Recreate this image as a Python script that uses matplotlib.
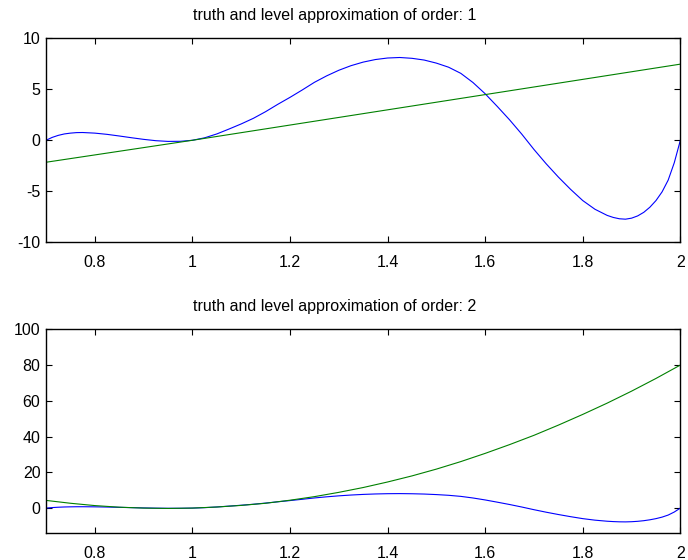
import matplotlib

matplotlib.use("Agg")
import matplotlib.pyplot as plt

plt.rcParams["font.family"] = ["Liberation Sans", "DejaVu Sans"]
plt.rcParams["axes.unicode_minus"] = False

# truth curve, sampled along x
x_truth = [0.700, 0.7125, 0.725, 0.7375, 0.750, 0.7625, 0.775, 0.800, 0.825,
           0.850, 0.875, 0.900, 0.925, 0.950, 0.975, 1.000, 1.025, 1.050,
           1.075, 1.100, 1.125, 1.150, 1.175, 1.200, 1.225, 1.250, 1.275,
           1.300, 1.325, 1.350, 1.375, 1.400, 1.425, 1.450, 1.475, 1.500,
           1.525, 1.550, 1.575, 1.600, 1.625, 1.650, 1.675, 1.700, 1.725,
           1.750, 1.775, 1.800, 1.825, 1.850, 1.8625, 1.875, 1.8875, 1.900,
           1.9125, 1.925, 1.9375, 1.950, 1.9625, 1.975, 1.9875, 2.000]
y_truth = [0.00, 0.28, 0.48, 0.62, 0.70, 0.75, 0.76, 0.70, 0.58,
           0.42, 0.25, 0.09, -0.04, -0.11, -0.10, 0.00, 0.24, 0.62,
           1.10, 1.60, 2.15, 2.80, 3.52, 4.20, 4.92, 5.67, 6.30,
           6.85, 7.30, 7.65, 7.90, 8.05, 8.10, 8.02, 7.85, 7.55,
           7.15, 6.55, 5.65, 4.55, 3.30, 2.00, 0.60, -0.90, -2.30,
           -3.60, -4.80, -5.90, -6.75, -7.35, -7.55, -7.68, -7.72, -7.62,
           -7.40, -7.05, -6.55, -5.90, -5.05, -3.90, -2.20, 0.00]

# order 1 approximation (straight line)
x_order1 = [0.7, 1.0, 2.0]
y_order1 = [-2.15, 0.0, 7.45]

# order 2 approximation
x_order2 = [0.70, 0.75, 0.80, 0.85, 0.90, 0.95, 1.00, 1.05, 1.10, 1.15,
            1.20, 1.25, 1.30, 1.35, 1.40, 1.45, 1.50, 1.55, 1.60, 1.65,
            1.70, 1.75, 1.80, 1.85, 1.90, 1.95, 2.00]
y_order2 = [4.3, 2.7, 1.4, 0.5, 0.0, -0.2, 0.0, 0.6, 1.5, 2.7,
            4.4, 6.4, 8.8, 11.5, 14.6, 18.0, 21.8, 26.0, 30.6, 35.5,
            40.7, 46.4, 52.4, 58.7, 65.4, 72.5, 80.0]

x_ticks = [0.8, 1.0, 1.2, 1.4, 1.6, 1.8, 2.0]
x_ticklabels = ["0.8", "1", "1.2", "1.4", "1.6", "1.8", "2"]

panels = [
    ("truth and level approximation of order: 1", x_order1, y_order1,
     (-10, 10), [-10, -5, 0, 5, 10]),
    ("truth and level approximation of order: 2", x_order2, y_order2,
     (-14, 100), [0, 20, 40, 60, 80, 100]),
]

fig = plt.figure(figsize=(6.88, 5.6), dpi=100)
boxes = [[0.0669, 0.567, 0.922, 0.365], [0.0669, 0.048, 0.922, 0.364]]

for box, (title, xa, ya, ylim, yticks) in zip(boxes, panels):
    ax = fig.add_axes(box)
    ax.plot(x_truth, y_truth, color="#0000ff", linewidth=0.8)
    ax.plot(xa, ya, color="#008000", linewidth=0.8)
    ax.set_xlim(0.7, 2.0)
    ax.set_ylim(*ylim)
    ax.set_xticks(x_ticks)
    ax.set_xticklabels(x_ticklabels)
    ax.set_yticks(yticks)
    ax.tick_params(direction="in", length=4.5, width=0.8, top=True, right=True,
                   labelsize=11.5)
    ax.tick_params(axis="x", pad=9)
    ax.tick_params(axis="y", pad=4)
    for spine in ax.spines.values():
        spine.set_linewidth(1.0)
    ax.text(0.455, 1.09, title, transform=ax.transAxes, ha="center",
            va="baseline", fontsize=11.5)

fig.savefig("out.png", dpi=100)
